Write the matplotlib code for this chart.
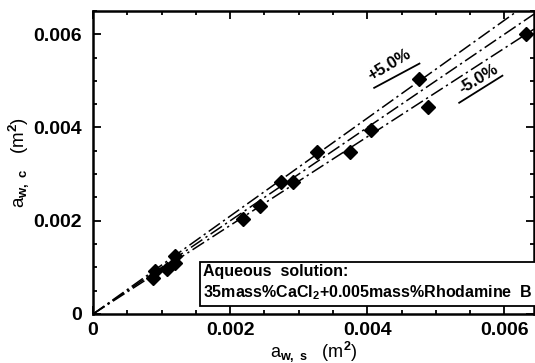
import matplotlib
matplotlib.use("Agg")
import matplotlib.pyplot as plt
import numpy as np
from matplotlib.ticker import MultipleLocator, FixedLocator, FixedFormatter

plt.rcParams['font.family'] = ['Liberation Sans', 'DejaVu Sans']
plt.rcParams['font.weight'] = 'bold'
plt.rcParams['mathtext.fontset'] = 'custom'
plt.rcParams['mathtext.rm'] = 'Liberation Sans:bold'
plt.rcParams['mathtext.it'] = 'Liberation Sans:bold'
plt.rcParams['mathtext.default'] = 'rm'

# data
a_ws = [0.00088, 0.00090, 0.00108, 0.00120, 0.00120, 0.00219, 0.00244,
        0.00274, 0.00292, 0.00326, 0.00374, 0.00405, 0.00475, 0.00488, 0.00631]
a_wc = [0.00077, 0.00093, 0.00096, 0.00109, 0.00125, 0.00204, 0.00231,
        0.00282, 0.00283, 0.00347, 0.00348, 0.00394, 0.00503, 0.00444, 0.00600]
ref_slopes = [1.05, 1.0, 0.95]
band_labels = ['+5.0%', '-5.0%']
tick_vals = [0, 0.002, 0.004, 0.006]
tick_labels = ['0', '0.002', '0.004', '0.006']
legend_lines = ['Aqueous  solution:',
                '35mass%CaCl$_2$+0.005mass%Rhodamine  B']

xmax, ymax = 0.00643, 0.0065

fig = plt.figure(figsize=(5.35, 3.63), dpi=100)
ax = fig.add_axes([0.174, 0.135, 0.824, 0.835])

xx = np.array([0.0, xmax])
ls = (0, (9, 2.5, 1.5, 2.5))
for s in ref_slopes:
    ax.plot(xx, s * xx, color='black', lw=1.1, linestyle=ls)

ax.plot(a_ws, a_wc, linestyle='none', marker='D', markersize=7.5,
        color='black', zorder=5)

ax.set_xlim(0, xmax)
ax.set_ylim(0, ymax)

ax.xaxis.set_major_locator(FixedLocator(tick_vals))
ax.yaxis.set_major_locator(FixedLocator(tick_vals))
ax.xaxis.set_major_formatter(FixedFormatter(tick_labels))
ax.yaxis.set_major_formatter(FixedFormatter(tick_labels))
ax.xaxis.set_minor_locator(MultipleLocator(0.0005))
ax.yaxis.set_minor_locator(MultipleLocator(0.0005))

ax.tick_params(which='both', direction='in', top=True, right=True,
               labelsize=14, width=1.3)
ax.tick_params(which='major', length=6)
ax.tick_params(which='minor', length=3)
ax.tick_params(axis='x', pad=6)
ax.tick_params(axis='y', pad=8)
for sp in ax.spines.values():
    sp.set_linewidth(1.8)

ax.set_xlabel('a$_{w,\\ s}$   (m$^2$)', fontsize=13, labelpad=0)
ax.set_ylabel('a$_{w,\\ c}$   (m$^2$)', fontsize=13.5, labelpad=2)

# band annotations
ax.text(0.00432, 0.00535, band_labels[0], rotation=31, fontsize=12,
        ha='center', va='center', rotation_mode='anchor')
ax.plot([0.00410, 0.00476], [0.00485, 0.00537], color='black', lw=1.3)
ax.text(0.00563, 0.00505, band_labels[1], rotation=31, fontsize=12,
        ha='center', va='center', rotation_mode='anchor')
ax.plot([0.00534, 0.00597], [0.00453, 0.00511], color='black', lw=1.3)

ax.text(0.00160, 0.00025, legend_lines[0] + '\n' + legend_lines[1],
        fontsize=11.5, ha='left', va='bottom', linespacing=1.35,
        bbox=dict(boxstyle='square,pad=0.2', fc='white', ec='black', lw=1.3),
        zorder=6)

fig.savefig('out.png', dpi=100)
